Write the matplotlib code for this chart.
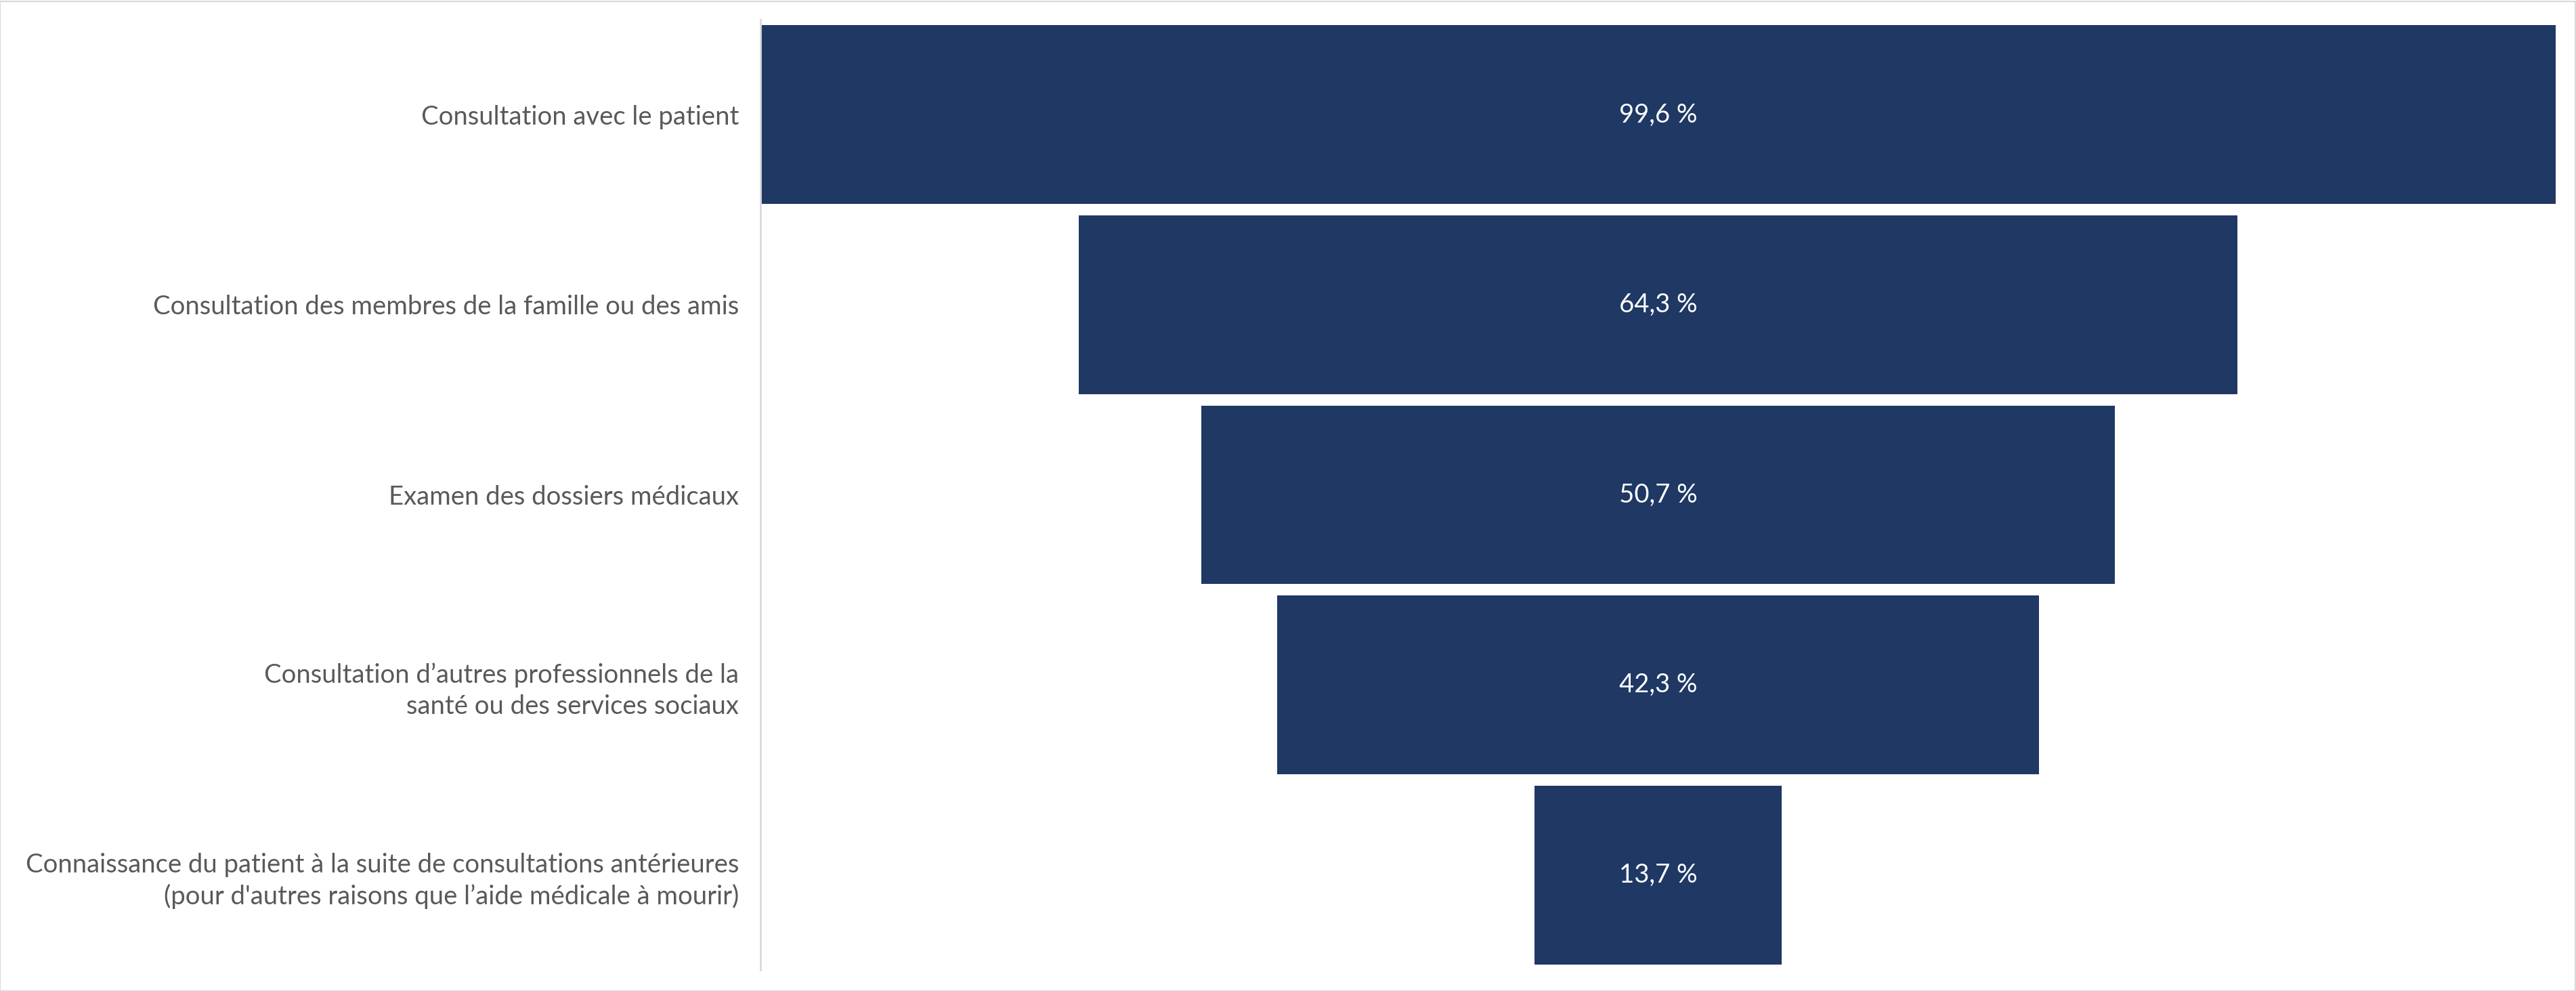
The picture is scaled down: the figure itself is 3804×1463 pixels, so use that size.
import matplotlib
matplotlib.use("Agg")
import matplotlib.pyplot as plt
from matplotlib.patches import Rectangle
import numpy as np

categories = [
    "Consultation avec le patient",
    "Consultation des membres de la famille ou des amis",
    "Examen des dossiers médicaux",
    "Consultation d’autres professionnels de la\nsanté ou des services sociaux",
    "Connaissance du patient à la suite de consultations antérieures\n(pour d'autres raisons que l’aide médicale à mourir)",
]
values = [99.6, 64.3, 50.7, 42.3, 13.7]
value_labels = ["99,6 %", "64,3 %", "50,7 %", "42,3 %", "13,7 %"]

plt.rcParams['font.family'] = ['Lato', 'DejaVu Sans']

W, H, DPI = 3805, 1463, 100
fig = plt.figure(figsize=(W / DPI, H / DPI), dpi=DPI)
fig.patch.set_facecolor("white")

left_px, right_px, top_px, bot_px = 1123, 3774, 29, 1432
ax = fig.add_axes([left_px / W, 1 - bot_px / H, (right_px - left_px) / W, (bot_px - top_px) / H])

vals = np.array(values)
y = np.arange(len(categories))
bar_color = "#1F3864"
ax.barh(y, vals, left=-vals / 2, height=0.94, color=bar_color)

for yi, lab in zip(y, value_labels):
    ax.text(0, yi, lab, ha="center", va="center", color="white", fontsize=27.5)

ax.set_xlim(-max(values) / 2, max(values) / 2)
ax.set_ylim(len(categories) - 0.5, -0.5)
ax.set_yticks(y)
ax.set_yticklabels(categories, fontsize=27.5, color="#595959", linespacing=1.33)
ax.tick_params(axis="y", length=0, pad=23)
ax.set_xticks([])
for s in ["top", "right", "bottom"]:
    ax.spines[s].set_visible(False)
ax.spines["left"].set_color("#d9d9d9")
ax.spines["left"].set_linewidth(2)

fig.patches.append(Rectangle((0.5 / W, 0.5 / H), 1 - 2 / W, 1 - 2 / H, transform=fig.transFigure,
                             fill=False, edgecolor="#d9d9d9", linewidth=1.5))

fig.savefig("out.png", dpi=DPI, facecolor="white")
